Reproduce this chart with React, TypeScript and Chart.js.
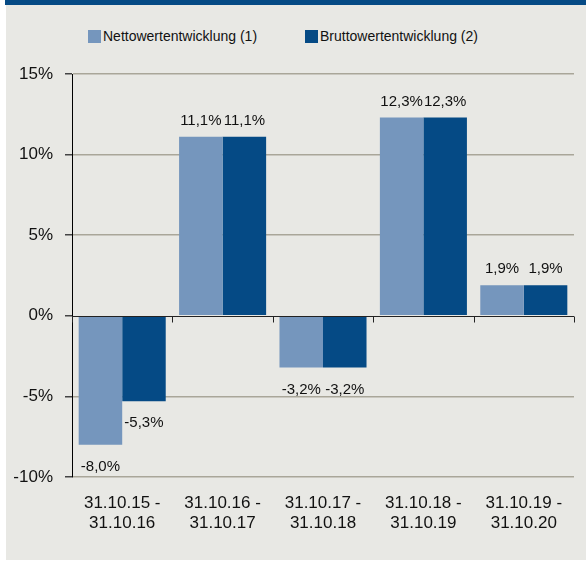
import React, { useEffect, useRef } from "react";
import { Chart, registerables } from "chart.js";

Chart.register(...registerables);

const categories: string[][] = [
  ["31.10.15 -", "31.10.16"],
  ["31.10.16 -", "31.10.17"],
  ["31.10.17 -", "31.10.18"],
  ["31.10.18 -", "31.10.19"],
  ["31.10.19 -", "31.10.20"],
];
const netto: number[] = [-8.0, 11.1, -3.2, 12.3, 1.9];
const brutto: number[] = [-5.3, 11.1, -3.2, 12.3, 1.9];
const seriesNames: string[] = ["Nettowertentwicklung (1)", "Bruttowertentwicklung (2)"];
const yTicks: number[] = [-10, -5, 0, 5, 10, 15];

const LIGHT = "#7596BD";
const DARK = "#054A85";
const BG = "#E8E8E4";
const FONT = "'Liberation Sans', Arial, sans-serif";

const fmt = (v: number) => v.toFixed(1).replace(".", ",") + "%";

const labelsPlugin = {
  id: "valueLabels",
  afterDatasetsDraw(chart: any) {
    const ctx = chart.ctx;
    ctx.save();
    ctx.font = `15px ${FONT}`;
    ctx.fillStyle = "#111";
    ctx.textAlign = "center";
    ctx.textBaseline = "middle";
    chart.data.datasets.forEach((ds: any, di: number) => {
      const meta = chart.getDatasetMeta(di);
      meta.data.forEach((bar: any, i: number) => {
        const v = ds.data[i];
        const y = v >= 0 ? bar.y - 16 : bar.y + 22;
        ctx.fillText(fmt(v), bar.x, y);
      });
    });
    ctx.restore();
  },
};

const zeroTicksPlugin = {
  id: "zeroTicks",
  afterDatasetsDraw(chart: any) {
    const ctx = chart.ctx;
    const x = chart.scales.x;
    const y = chart.scales.y;
    const y0 = Math.round(y.getPixelForValue(0)) + 0.5;
    ctx.save();
    ctx.strokeStyle = "#222";
    ctx.lineWidth = 1;
    ctx.beginPath();
    ctx.moveTo(chart.chartArea.left, y0);
    ctx.lineTo(chart.chartArea.right, y0);
    const n = categories.length;
    for (let i = 0; i <= n; i++) {
      const px = Math.round(chart.chartArea.left + ((chart.chartArea.right - chart.chartArea.left) * i) / n) + 0.5;
      ctx.moveTo(px, y0);
      ctx.lineTo(px, y0 + 6);
    }
    ctx.stroke();
    ctx.restore();
  },
};

export default function App() {
  const ref = useRef<HTMLCanvasElement | null>(null);

  useEffect(() => {
    document.body.style.margin = "0";
    const canvas = ref.current;
    if (!canvas) return;
    const chart = new Chart(canvas, {
      type: "bar",
      data: {
        labels: categories,
        datasets: [
          { label: seriesNames[0], data: netto, backgroundColor: LIGHT, borderWidth: 0 },
          { label: seriesNames[1], data: brutto, backgroundColor: DARK, borderWidth: 0 },
        ],
      },
      options: {
        animation: false,
        responsive: false,
        maintainAspectRatio: false,
        layout: { padding: { top: 74, right: 12, left: 0, bottom: 0 } },
        datasets: { bar: { categoryPercentage: 0.867, barPercentage: 1 } },
        plugins: { legend: { display: false }, tooltip: { enabled: false } },
        scales: {
          x: {
            grid: { display: false },
            border: { display: false },
            ticks: { color: "#111", font: { size: 17, family: FONT }, padding: 8, maxRotation: 0 },
            afterFit: (s: any) => { s.height = 85; },
          },
          y: {
            min: -10,
            max: 15,
            afterBuildTicks: (s: any) => { s.ticks = yTicks.map((v) => ({ value: v })); },
            grid: {
              color: (c: any) => (c.tick && c.tick.value === 0 ? "rgba(0,0,0,0)" : "#A9A699"),
              lineWidth: 1.5,
              tickColor: "#444",
              tickLength: 7,
            },
            border: { display: true, color: "#000", width: 1 },
            ticks: {
              color: "#111",
              font: { size: 17, family: FONT },
              padding: 12,
              callback: (v: any) => `${v}%`,
            },
            afterFit: (s: any) => { s.width = 72; },
          },
        },
      },
      plugins: [zeroTicksPlugin, labelsPlugin],
    });
    return () => chart.destroy();
  }, []);

  const legendItem = (color: string, text: string, left: number) => (
    <div style={{ position: "absolute", left, top: 28, display: "flex", alignItems: "center", fontFamily: FONT, fontSize: 14, color: "#111" }}>
      <div style={{ width: 13, height: 13, background: color, marginRight: 2 }} />
      <span>{text}</span>
    </div>
  );

  return (
    <div style={{ position: "absolute", left: 0, top: 0, width: 586, height: 562, background: "#fff", overflow: "hidden" }}>
      <div style={{ position: "absolute", left: 6, top: 0, right: 0, bottom: 2, background: BG }} />
      <div style={{ position: "absolute", left: 5, top: 0, right: 0, height: 5, background: DARK }} />
      {legendItem(LIGHT, seriesNames[0], 88)}
      {legendItem(DARK, seriesNames[1], 305)}
      <canvas ref={ref} width={586} height={562} style={{ position: "absolute", left: 0, top: 0, width: 586, height: 562 }} />
    </div>
  );
}
